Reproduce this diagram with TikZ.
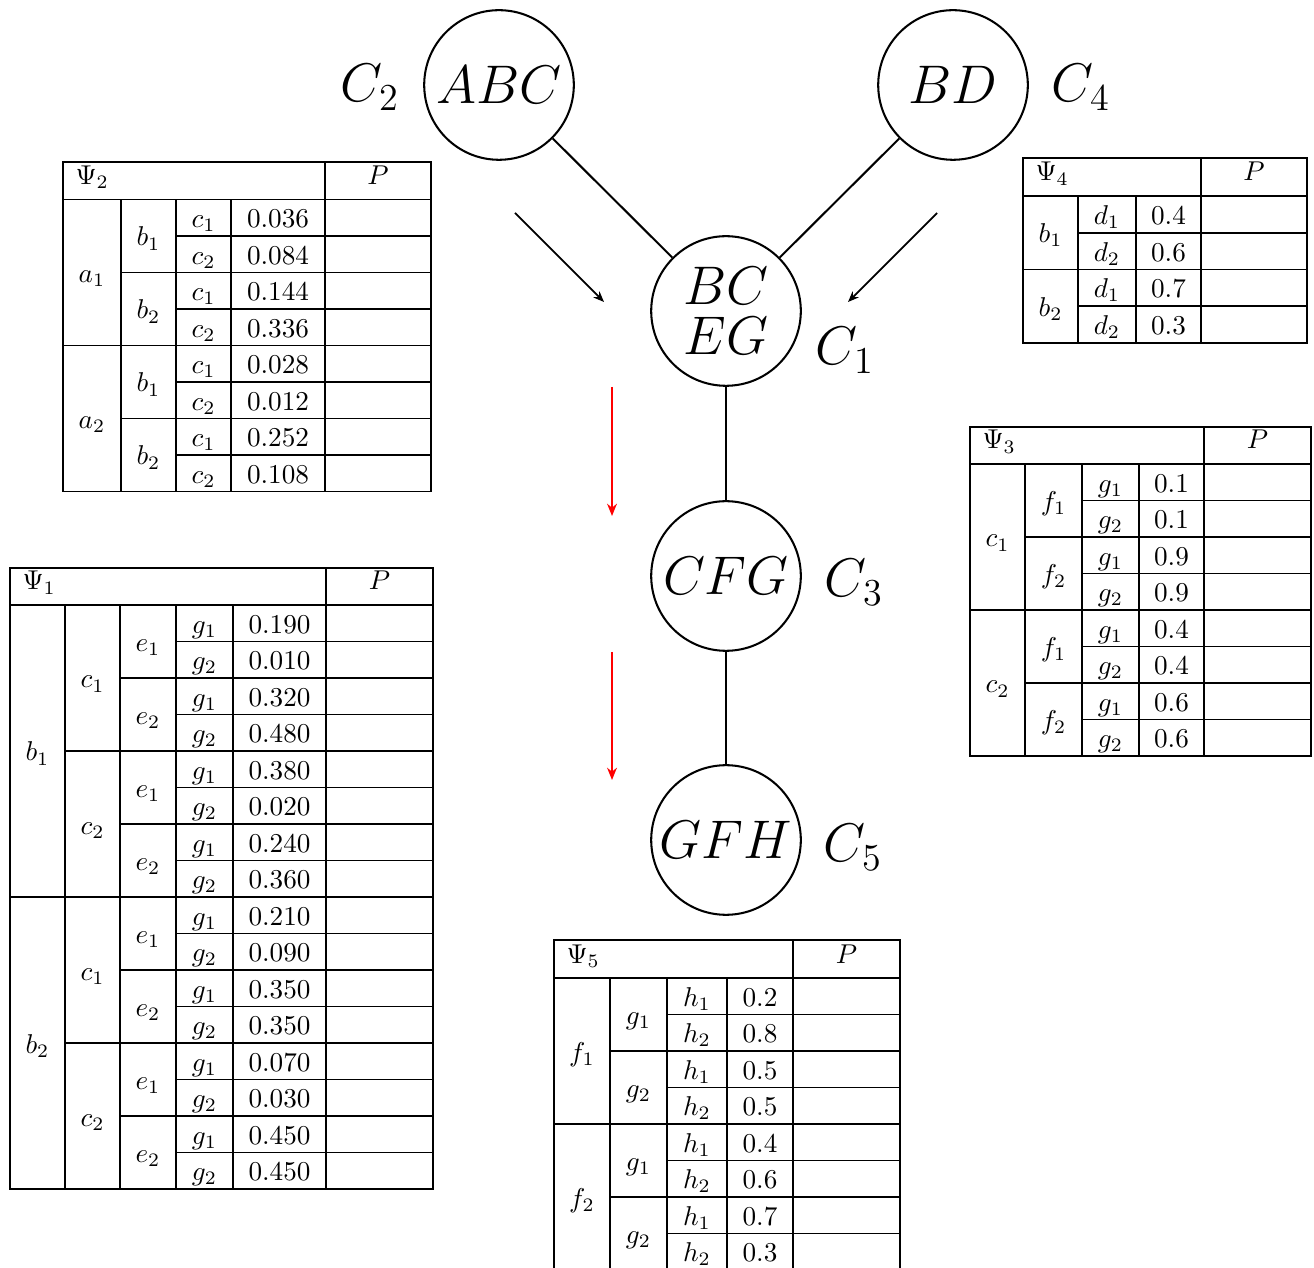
\documentclass[tikz,border=0pt]{standalone}
\usepackage{fix-cm}
\usepackage{tikz}
\usepackage{amsmath}
\usetikzlibrary{arrows.meta, positioning}

\tikzset{
  clique/.style={draw, circle, line width=0.75pt, minimum size=55pt, inner sep=0pt, align=center, font=\fontsize{20}{18.4}\selectfont},
  cname/.style={anchor=base, inner sep=0pt, font=\fontsize{20}{23}\selectfont},
  link/.style={line width=0.75pt},
  grid/.style={line width=0.65pt},
  cell/.style={anchor=base, inner sep=0pt, font=\fontsize{10}{12}\selectfont},
  pass/.style={line width=0.65pt, -{Stealth[length=4pt, width=3.2pt]}},
  order/.style={red, line width=1pt, -{Stealth[length=4.5pt, width=3.6pt]}}
}

% #1 index, #2 origin, #3 header height, #4 row height, #5 rows,
% #6 levels var/left/right/group, #7 value/P/end columns, #8 values
\newcommand{\potential}[8]{%
  \begin{scope}[shift={#2}]
    \foreach \xv/\xp/\xe in {#7}{
      \draw[grid] (0,0) rectangle (\xe,{#3+#5*#4});
      \draw[grid] (0,#3) -- (\xe,#3) (\xp,0) -- (\xp,{#3+#5*#4}) (\xv,#3) -- (\xv,{#3+#5*#4});
      \node[cell, anchor=base west] (psi#1) at (12,{#3-15}) {$\Psi_#1$};
      \node[cell] (pcol#1) at ({(\xp+\xe)/2},{#3-15}) {$P$};
      \foreach \val [count=\rr] in {#8}
        \node[cell] (val#1-\rr) at ({(\xv+\xp)/2},{#3+(\rr-0.5)*#4+10}) {\val};
      \foreach \var/\xa/\xb/\g in {#6}{
        \draw[grid] (\xb,#3) -- (\xb,{#3+#5*#4});
        \pgfmathtruncatemacro\ng{#5/\g}
        \pgfmathtruncatemacro\nsep{\ng-1}
        \foreach \m in {1,...,\ng}{
          \pgfmathtruncatemacro\idx{2-mod(\m,2)}
          \node[cell] (\var#1-\m) at ({(\xa+\xb)/2},{#3+(\m-0.5)*\g*#4+10}) {$\var_{\idx}$};
        }
        \foreach \m in {1,...,\nsep}
          \draw[grid] (\xa,{#3+\m*\g*#4}) -- (\xe,{#3+\m*\g*#4});
      }
    }
  \end{scope}}

\begin{document}
\begin{tikzpicture}[x=0.3676pt, y=-0.3676pt]
\useasboundingbox (0,0) rectangle (1314,1268);

% junction tree
\node[clique] (c2) at (499,85) {$ABC$};
\node[clique] (c4) at (953,85) {$BD$};
\node[clique] (c1) at (726,311) {$BC$\\$EG$};
\node[clique] (c3) at (726,576) {$CFG$};
\node[clique] (c5) at (726,840) {$GFH$};

\node[cname] (n2) at (370,102) {$C_2$};
\node[cname] (n4) at (1081,102) {$C_4$};
\node[cname] (n1) at (845,365) {$C_1$};
\node[cname] (n3) at (854,597) {$C_3$};
\node[cname] (n5) at (853,862) {$C_5$};

\draw[link] (c2) -- (c1);
\draw[link] (c4) -- (c1);
\draw[link] (c1) -- (c3);
\draw[link] (c3) -- (c5);

% messages
\coordinate (m2a) at (515,213);
\coordinate (m2b) at (604,302);
\coordinate (m4a) at (937,213);
\coordinate (m4b) at (848,302);
\coordinate (m1a) at (612,387);
\coordinate (m1b) at (612,516);
\coordinate (m3a) at (612,652);
\coordinate (m3b) at (612,780);
\draw[pass] (m2a) -- (m2b);
\draw[pass] (m4a) -- (m4b);
\draw[order] (m1a) -- (m1b);
\draw[order] (m3a) -- (m3b);

% potentials
\potential{2}{(63,162)}{37.5}{36.5}{8}{a/0/58/4, b/58/113/2, c/113/168/1}{168/262/368}
  {0.036,0.084,0.144,0.336,0.028,0.012,0.252,0.108}
\potential{1}{(10,568)}{37}{36.5}{16}{b/0/55/8, c/55/110/4, e/110/166/2, g/166/223/1}{223/316/423}
  {0.190,0.010,0.320,0.480,0.380,0.020,0.240,0.360,0.210,0.090,0.350,0.350,0.070,0.030,0.450,0.450}
\potential{3}{(970,427)}{37}{36.5}{8}{c/0/55/4, f/55/112/2, g/112/169/1}{169/234/341}
  {0.1,0.1,0.9,0.9,0.4,0.4,0.6,0.6}
\potential{4}{(1023,158)}{38}{36.75}{4}{b/0/55/2, d/55/113/1}{113/178/284}
  {0.4,0.6,0.7,0.3}
\potential{5}{(554,940)}{38}{36.5}{8}{f/0/56/4, g/56/113/2, h/113/173/1}{173/239/346}
  {0.2,0.8,0.5,0.5,0.4,0.6,0.7,0.3}
\end{tikzpicture}
\end{document}
